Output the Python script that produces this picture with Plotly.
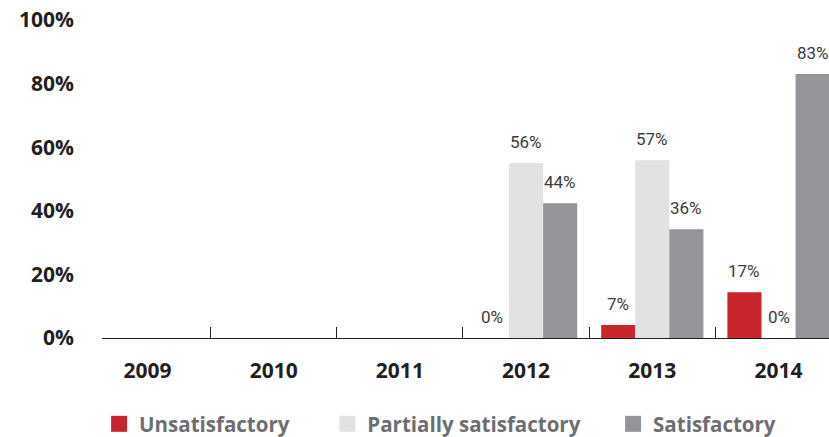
import plotly.graph_objects as go

years = ["2009", "2010", "2011", "2012", "2013", "2014"]
unsatisfactory = [0, 0, 0, 0, 4.1, 14.4]
partially = [0, 0, 0, 55.0, 55.9, 0]
satisfactory = [0, 0, 0, 42.4, 34.2, 83.0]
unsat_labels = [None, None, None, "0%", "7%", "17%"]
partial_labels = [None, None, None, "56%", "57%", "0%"]
sat_labels = [None, None, None, "44%", "36%", "83%"]
series_names = ["Unsatisfactory", "Partially satisfactory", "Satisfactory"]
y_ticks = [0, 20, 40, 60, 80, 100]

colors = ["#c8252c", "#e1e2e4", "#939598"]
bargap = 0.19
bw = (1 - bargap) / 3
xpos = list(range(len(years)))

fig = go.Figure()
series = [unsatisfactory, partially, satisfactory]
labels = [unsat_labels, partial_labels, sat_labels]
legends = ["legend", "legend2", "legend3"]
for k, (vals, name, col) in enumerate(zip(series, series_names, colors)):
    fig.add_trace(go.Bar(x=xpos, y=vals, name=name, marker=dict(color=col, line=dict(width=0)),
                         showlegend=False, hoverinfo="skip"))
    fig.add_trace(go.Scatter(x=[None], y=[None], mode="markers", name=name,
                             marker=dict(symbol="square", size=17, color=col),
                             legend=legends[k], showlegend=True))

annotations = []
for k, (vals, labs) in enumerate(zip(series, labels)):
    for i, (v, t) in enumerate(zip(vals, labs)):
        if t is None:
            continue
        annotations.append(dict(x=i + (k - 1) * bw, y=v, xref="x", yref="y", text=t,
                                showarrow=False, yanchor="bottom", yshift=9,
                                font=dict(family="Liberation Sans Narrow, Roboto, Open Sans", size=17, color="#3b3b3d")))

legend_font = dict(family="Open Sans", size=20.5, color="#6d6e71", weight="bold")
leg_common = dict(orientation="h", yref="container", yanchor="middle", y=1 - 424 / 437,
                  xanchor="left", font=legend_font, bgcolor="rgba(0,0,0,0)", itemclick=False)

fig.update_layout(
    width=829, height=437,
    margin=dict(l=101.5, r=0, t=19.5, b=99, autoexpand=False),
    paper_bgcolor="white", plot_bgcolor="white",
    barmode="group", bargap=bargap, bargroupgap=0,
    annotations=annotations,
    legend=dict(x=-0.004, **leg_common),
    legend2=dict(x=0.310, **leg_common),
    legend3=dict(x=0.703, **leg_common),
    xaxis=dict(range=[-0.36, 5.40], tickmode="array", tickvals=xpos, ticktext=years,
               ticks="", showgrid=False, zeroline=False, showline=True, automargin=False,
               linecolor="#231f20", linewidth=1.3, ticklabelstandoff=14,
               tickfont=dict(family="Open Sans", size=21, color="#231f20", weight="bold"),
               minor=dict(tickmode="linear", tick0=0.5, dtick=1, ticks="inside",
                          ticklen=11, tickcolor="#231f20", tickwidth=1.3, showgrid=False)),
    yaxis=dict(range=[0, 100], tickmode="array", tickvals=y_ticks, automargin=False,
               ticktext=[f"{v}%" for v in y_ticks], ticks="", showgrid=False,
               zeroline=False, showline=False, ticklabelstandoff=27,
               tickfont=dict(family="Open Sans", size=21, color="#231f20", weight="bold")),
)

fig.write_html("out.html")
